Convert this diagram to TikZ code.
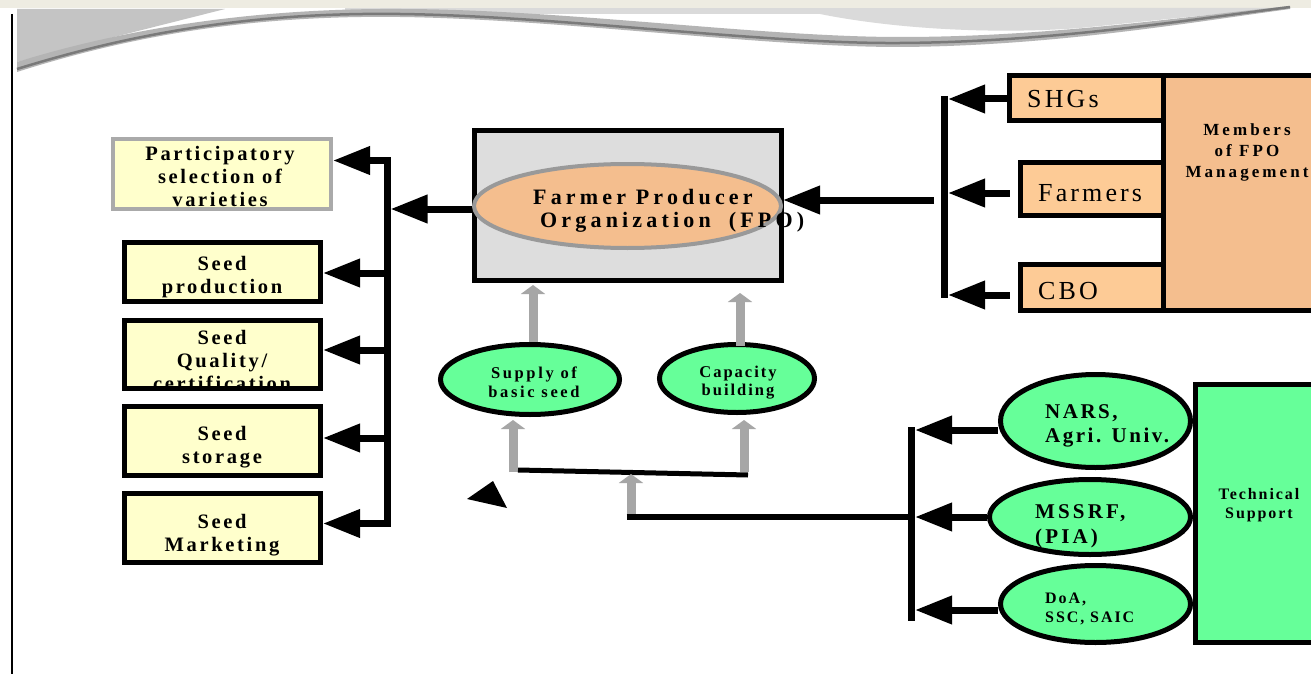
\documentclass[tikz,border=0pt]{standalone}
\usepackage{fontspec}
\setmainfont{Liberation Serif}
\newfontfamily\lsL[LetterSpace=13]{Liberation Serif}
\newfontfamily\lsF[LetterSpace=19]{Liberation Serif}
\newfontfamily\lsS[LetterSpace=16]{Liberation Serif}
\newfontfamily\lsC[LetterSpace=12]{Liberation Serif}
\newfontfamily\lsM[LetterSpace=18]{Liberation Serif}
\newfontfamily\lsN[LetterSpace=12]{Liberation Serif}
\newfontfamily\lsP[LetterSpace=15]{Liberation Serif}
\newfontfamily\lsD[LetterSpace=12]{Liberation Serif}
\newfontfamily\lsO[LetterSpace=12]{Liberation Serif}
\usetikzlibrary{arrows.meta,shapes.geometric}
\definecolor{yel}{HTML}{FFFFCC}
\definecolor{peach}{HTML}{F4BE8E}
\definecolor{shg}{HTML}{FDCB96}
\definecolor{grn}{HTML}{66FF99}
\definecolor{fpogray}{HTML}{DDDDDD}
\definecolor{ellgray}{HTML}{999999}
\definecolor{ppgray}{HTML}{AAAAAA}
\definecolor{grayA}{HTML}{A6A6A6}
\definecolor{topbg}{HTML}{EEECE2}
\definecolor{decoL}{HTML}{C4C4C4}
\definecolor{decoM}{HTML}{B4B4B4}
\definecolor{decoD}{HTML}{7A7A7A}
\definecolor{decoS}{HTML}{DADADA}
\begin{document}
\begin{tikzpicture}[x=1pt,y=-1pt,
  ybox/.style={rectangle,draw=black,line width=5pt,fill=yel,inner sep=0pt,minimum width=196pt},
  obox/.style={rectangle,draw=black,line width=5pt,fill=shg,inner sep=0pt},
  gell/.style={ellipse,draw=black,line width=5pt,fill=grn,inner sep=0pt},
  ltxt/.style={font=\lsL\bfseries\fontsize{20.5}{23}\selectfont,align=center,inner sep=0pt},
  ftxt/.style={font=\lsF\bfseries\fontsize{22}{23}\selectfont,inner sep=0pt},
  otxt/.style={font=\lsO\fontsize{26}{28}\selectfont,inner sep=0pt},
  rtxt/.style={align=left,inner sep=0pt,anchor=west},
  ctr/.style={align=center,inner sep=0pt},
  bus/.style={line width=7pt},
  barrow/.style={line width=7pt,-{Triangle[length=37pt,width=27pt]}},
  garrow/.style={draw=grayA,line width=9pt,-{Triangle[length=9pt,width=24pt]},color=grayA},
  thin/.style={line width=5pt}
]
\clip (0,0) rectangle (1311,674);
\fill[white] (0,0) rectangle (1311,674);
% ---- top decoration
\fill[topbg] (0,0) rectangle (1311,8);
\fill[decoS] (345,8) rectangle (1050,14);
\fill[decoL] (17,9) -- (225,9) .. controls (150,28) and (70,48) .. (17,62) -- cycle;
\fill[decoS] (820,14) .. controls (900,30) and (1000,34) .. (1080,28) .. controls (1160,20) and (1230,12) .. (1290,8) -- (1050,8) -- (1050,14) -- cycle;
\fill[decoM] (17,72) .. controls (130,36) and (250,15) .. (400,17) .. controls (560,19) and (760,47) .. (900,47) .. controls (1050,46) and (1180,24) .. (1290,9)
  -- (1290,6) .. controls (1180,17) and (1050,37) .. (900,37) .. controls (760,37) and (560,9) .. (400,9) .. controls (250,8) and (120,30) .. (17,62) -- cycle;
\draw[decoD,line width=2.5pt] (17,69) .. controls (130,34) and (250,12) .. (400,14) .. controls (560,16) and (760,44) .. (900,43) .. controls (1050,42) and (1180,21) .. (1290,7);
\draw[line width=2pt] (12,14) -- (12,674);

% ---- left column
\node[rectangle,draw=ppgray,line width=4pt,fill=yel,inner sep=0pt,minimum width=218pt,minimum height=70pt] (pp) at (222,174) {};
\node[ybox,minimum height=59pt] (sp) at (222.5,272) {};
\node[ybox,minimum height=68pt] (sq) at (222.5,354.5) {};
\node[ybox,minimum height=69pt] (ss) at (222.5,441) {};
\node[ybox,minimum height=69pt] (sm) at (222.5,528) {};
\node[ltxt] (ppT) at (220,176.5) {Participatory\\selection of\\varieties};
\node[ltxt] (spT) at (222,277) {Seed\\production};
\node[ltxt] (sqT) at (222,360) {Seed\\Quality/\\certification};
\draw[line width=5pt] (sq.south west) ++(2.5pt,2.5pt) -- ([xshift=-2.5pt,yshift=2.5pt]sq.south east);
\node[ltxt] (ssT) at (222,447) {Seed\\storage};
\node[ltxt] (smT) at (222,535) {Seed\\Marketing};

\coordinate (lbT) at (387,157);
\coordinate (lbB) at (387,527);
\draw[bus] (lbT) -- (lbB);
\coordinate (l1) at (390.5,160.5);
\coordinate (l2) at (390.5,273);
\coordinate (l3) at (390.5,350);
\coordinate (l4) at (390.5,438);
\coordinate (l5) at (390.5,523.5);
\draw[barrow] (l1) -- (pp.east|-l1);
\draw[barrow] (l2) -- (sp.east|-l2);
\draw[barrow] (l3) -- (sq.east|-l3);
\draw[barrow] (l4) -- (ss.east|-l4);
\draw[barrow] (l5) -- (sm.east|-l5);

% ---- FPO
\coordinate (lbF) at (390.5,209);
\node[rectangle,draw=black,line width=5pt,fill=fpogray,inner sep=0pt,minimum width=307pt,minimum height=150pt] (fpo) at (628,205.5) {};
\draw[barrow] (fpo.west|-lbF) -- (lbF);
\node[ellipse,draw=ellgray,line width=4pt,fill=peach,inner sep=0pt,minimum width=307pt,minimum height=84pt] (fpoE) at (627.5,206) {};
\node[ftxt,anchor=base west] (fpoT1) at (533,204) {Farmer Producer};
\node[ftxt,anchor=base west] (fpoT2) at (540,227) {Organization\hspace{18pt}(FPO)};

% ---- members side
\node[obox,minimum width=155pt,minimum height=45pt] (shgs) at (1087,98) {};
\node[obox,minimum width=144.5pt,minimum height=53pt] (farm) at (1092.5,189) {};
\node[obox,minimum width=144.5pt,minimum height=46pt] (cbo) at (1092.5,287.5) {};
\node[rectangle,draw=black,line width=5pt,fill=peach,inner sep=0pt,minimum width=165pt,minimum height=235pt] (memb) at (1246,193) {};
\node[otxt,anchor=base west] (shgsT) at (1027,108) {SHGs};
\node[otxt,anchor=base west] (farmT) at (1038,201.5) {Farmers};
\node[otxt,anchor=base west] (cboT) at (1038,299.5) {CBO};
\node[ctr,font=\lsM\bfseries\fontsize{17}{21}\selectfont] (membT) at (1247,152) {Members\\of FPO\\Management};

\draw[bus] (944.5,96) -- (944.5,298);
\coordinate (r1) at (948,99);
\coordinate (r2) at (948,193);
\coordinate (r3) at (948,295);
\draw[barrow] (shgs.west|-r1) -- (r1);
\draw[barrow] ([xshift=-8pt]farm.west|-r2) -- (r2);
\draw[barrow] ([xshift=-8pt]cbo.west|-r3) -- (r3);
\coordinate (rIn) at (934,200);
\draw[barrow] (rIn) -- (rIn-|fpoE.east);

% ---- green ellipses
\node[gell,minimum width=179pt,minimum height=70pt] (sup) at (530,379.5) {};
\node[gell,minimum width=155pt,minimum height=68pt] (cap) at (737,378.5) {};
\node[ctr,font=\lsS\bfseries\fontsize{16.5}{18.5}\selectfont] (supT) at (534,382.5) {Supply of\\basic seed};
\node[ctr,font=\lsC\bfseries\fontsize{16.5}{18.5}\selectfont] (capT) at (738,382.5) {Capacity\\building};

\draw[garrow,shorten >=2pt] ([xshift=3pt]sup.north) -- ([xshift=3pt]sup.north|-fpo.south);
\draw[garrow,shorten >=10pt] ([xshift=3pt,yshift=-4pt]cap.north) -- ([xshift=3pt]cap.north|-fpo.south);
\coordinate (jS) at (513,472);
\coordinate (jC) at (744,472);
\draw[garrow,shorten >=3pt] (jS) -- (jS|-sup.south);
\draw[garrow,shorten >=5pt] (jC) -- (jC|-cap.south);
\coordinate (bl1) at (518,470);
\coordinate (bl2) at (748,475);
\draw[thin] (bl1) -- (bl2);
\coordinate (mA) at (631,519);
\coordinate (mT) at (631,474);
\draw[garrow] (mA) -- (mT);
\coordinate (rlM) at (912,517);
\draw[line width=5.5pt] (626.5,517) -- (rlM);
\fill (467,499) -- (493,481) -- (507,508) -- cycle;

% ---- technical support
\node[rectangle,draw=black,line width=5pt,fill=grn,inner sep=0pt,minimum width=132pt,minimum height=258pt] (tech) at (1261.5,513.5) {};
\node[gell,minimum width=190pt,minimum height=93pt] (nars) at (1095.5,421) {};
\node[gell,minimum width=201pt,minimum height=75pt] (mss) at (1090,517) {};
\node[gell,minimum width=190pt,minimum height=77pt] (doa) at (1095.5,604) {};
\node[rtxt,font=\lsN\bfseries\fontsize{21}{24}\selectfont] (narsT) at (1045,425.5) {NARS,\\Agri. Univ.};
\node[rtxt,font=\lsP\bfseries\fontsize{21}{25}\selectfont] (mssT) at (1035,526.5) {MSSRF,\\(PIA)};
\node[rtxt,font=\lsD\bfseries\fontsize{16}{19}\selectfont] (doaT) at (1045,609) {DoA,\\SSC, SAIC};
\node[ctr,font=\lsD\bfseries\fontsize{16}{19}\selectfont] (techT) at (1259,505) {Technical\\Support};

\draw[bus] (911.5,427) -- (911.5,621);
\coordinate (t1) at (915,430);
\coordinate (t2) at (915,517);
\coordinate (t3) at (915,610);
\draw[barrow] (nars.west|-t1) -- (t1);
\draw[barrow] (mss.west|-t2) -- (t2);
\draw[barrow] (doa.west|-t3) -- (t3);
\end{tikzpicture}
\end{document}
